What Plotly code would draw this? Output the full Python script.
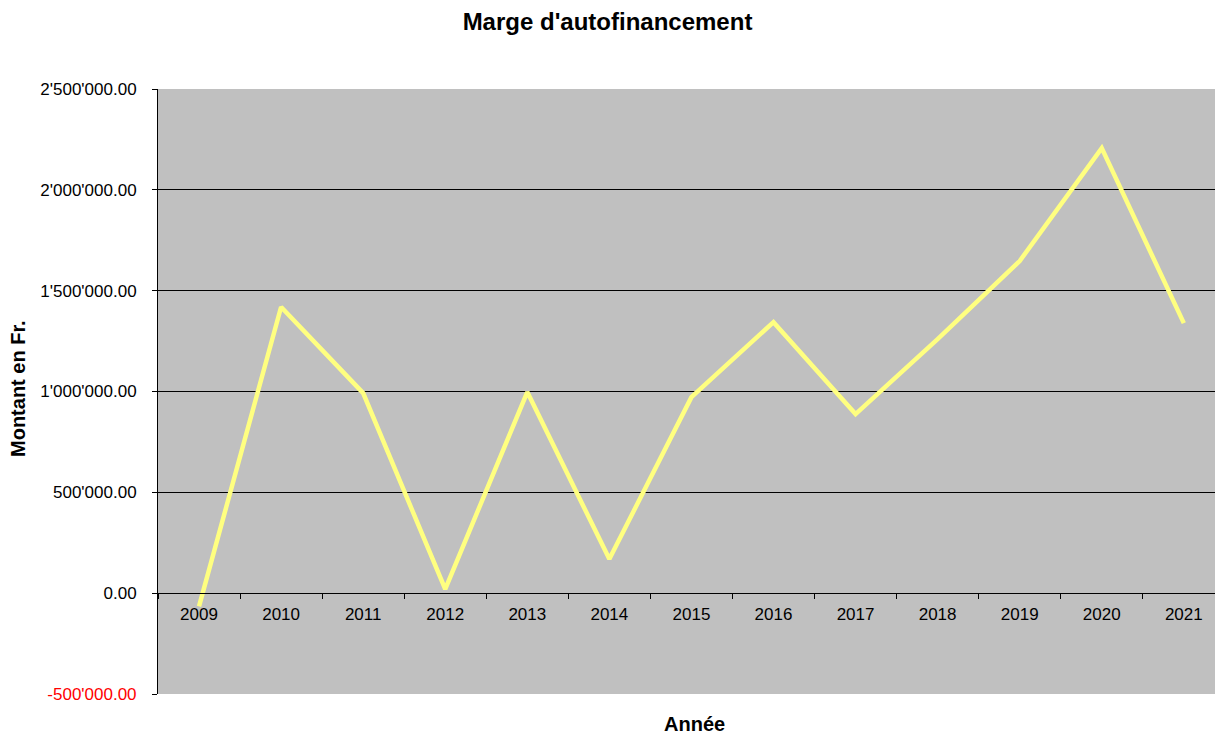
import plotly.graph_objects as go

years = ["2009", "2010", "2011", "2012", "2013", "2014", "2015", "2016", "2017", "2018", "2019", "2020", "2021"]
values = [-65000, 1419000, 992000, 20000, 997000, 169000, 972000, 1344000, 888000, 1260000, 1647000, 2207000, 1339000]

y_tickvals = [-500000, 0, 500000, 1000000, 1500000, 2000000, 2500000]
y_ticktext = ['<span style="color:#FF0000">-500\'000.00</span>', "0.00", "500'000.00", "1'000'000.00",
              "1'500'000.00", "2'000'000.00", "2'500'000.00"]

title_text = "Marge d'autofinancement"
x_title = "Année"
y_title = "Montant en Fr."

FONT = "Liberation Sans, Arial, sans-serif"

fig = go.Figure()
fig.add_trace(go.Scatter(
    x=years, y=values, mode="lines",
    line=dict(color="#FFFF80", width=4.5),
    showlegend=False,
))

y_min, y_max = -500000, 2500000

fig.update_layout(
    width=1215, height=734,
    margin=dict(l=158, r=0, t=89, b=40),
    paper_bgcolor="white",
    plot_bgcolor="#C0C0C0",
    font=dict(family=FONT, color="black", size=17),
    title=dict(text="<b>" + title_text + "</b>", x=0.5, xanchor="center",
               yref="container", y=1 - 22 / 734, yanchor="middle",
               font=dict(family=FONT, size=24, color="black")),
    xaxis=dict(
        type="category",
        range=[-0.5, len(years) - 0.62],
        anchor="free",
        position=(0 - y_min) / (y_max - y_min),
        showline=True, linecolor="black", linewidth=1,
        ticks="outside", tickson="boundaries", ticklen=5, tickcolor="black",
        showgrid=False, zeroline=False,
        ticklabelstandoff=5,
        tickfont=dict(family=FONT, size=17, color="black"),
    ),
    yaxis=dict(
        range=[y_min, y_max],
        tickvals=y_tickvals, ticktext=y_ticktext,
        showline=True, linecolor="black", linewidth=1,
        ticks="outside", ticklen=5, tickcolor="black",
        showgrid=True, gridcolor="black", gridwidth=1,
        zeroline=False,
        ticklabelstandoff=12,
        tickfont=dict(family=FONT, size=17, color="black"),
    ),
    annotations=[
        dict(text="<b>" + x_title + "</b>", xref="paper", yref="paper",
             x=(694 - 158) / 1057, y=-(724 - 694) / 605,
             xanchor="center", yanchor="middle", showarrow=False,
             font=dict(family=FONT, size=20, color="black")),
        dict(text="<b>" + y_title + "</b>", xref="paper", yref="paper",
             x=(18 - 158) / 1057, y=(694 - 389) / 605, textangle=-90,
             xanchor="center", yanchor="middle", showarrow=False,
             font=dict(family=FONT, size=20, color="black")),
    ],
)

fig.write_html("out.html", config={"displayModeBar": False},
               post_script="document.body.style.margin='0';document.body.style.padding='0';")
